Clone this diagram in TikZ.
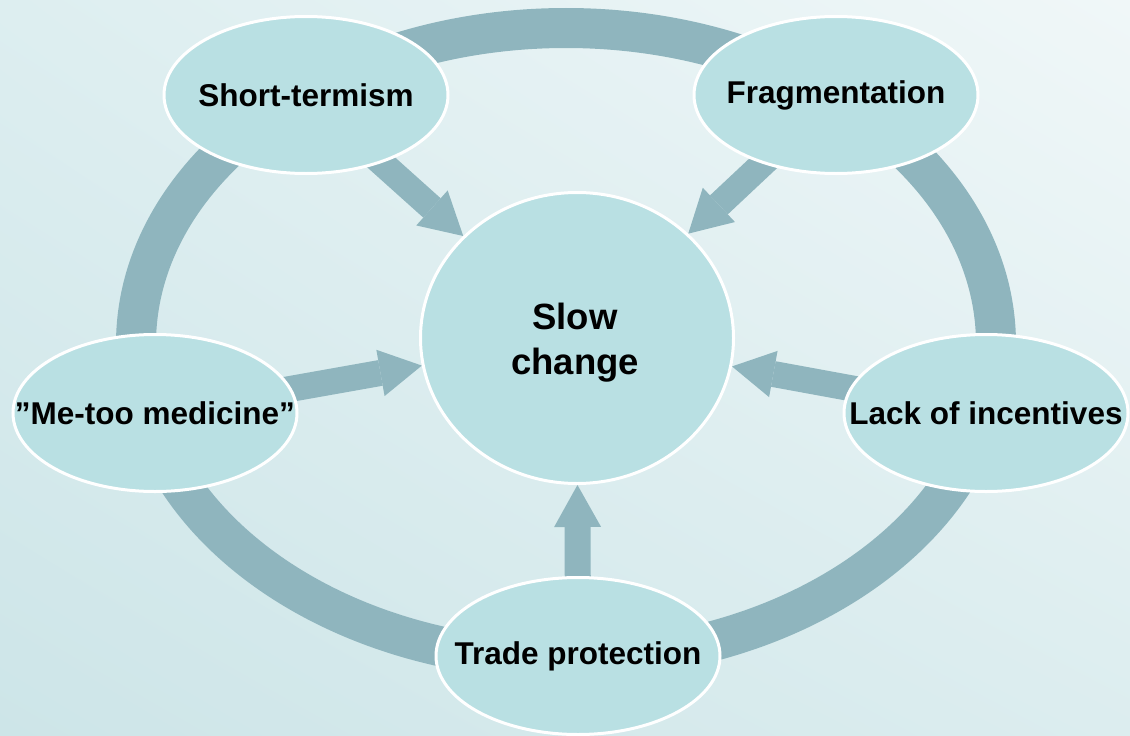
\documentclass[tikz,border=0pt]{standalone}
\usepackage{fontspec}
\setmainfont{Liberation Sans}
\usetikzlibrary{shapes.geometric,arrows.meta,shadings}

\definecolor{ringblue}{HTML}{8FB5BE}
\definecolor{bubblefill}{HTML}{B9E0E3}
\definecolor{bgtl}{HTML}{DDEEF0}
\definecolor{bgtr}{HTML}{F0F7F8}
\definecolor{bgbl}{HTML}{CDE5E8}
\definecolor{bgbr}{HTML}{DCEDEF}

\pgfdeclarelayer{backdrop}
\pgfdeclarelayer{ring}
\pgfsetlayers{backdrop,ring,main}

\begin{document}
\begin{tikzpicture}[x=1pt,y=-1pt]
    \tikzstyle{bubble}=[ellipse,draw=white,line width=3pt,fill=bubblefill,inner sep=0pt,minimum width=284pt,minimum height=157pt,font=\fontsize{31.5}{36}\selectfont\bfseries]
    \tikzstyle{hub}=[bubble,minimum width=313pt,minimum height=291pt]
    \tikzstyle{hubtext}=[align=center,inner sep=0pt,font=\fontsize{36.5}{45}\selectfont\bfseries]
    \tikzstyle{ringband}=[draw=ringblue,line width=40pt]
    \tikzstyle{push}=[ringblue,line width=26pt,shorten <=-14pt,-{Triangle[length=42pt,width=47pt,line width=0pt]}]
    {
        \useasboundingbox (0,0) rectangle (1130,736);

        % centre and the five causes
        \node[hub] (slow) at (577,338) {};
        \node[hubtext] (slowtext) at (575,343) {Slow\\change};
        \node[bubble] (shortterm) at (306,95) {\makebox[0pt]{Short-termism}};
        \node[bubble] (frag) at (836,95) {\makebox[0pt]{Fragmentation}};
        \node[bubble] (metoo) at (155,413) {\makebox[0pt]{”Me-too medicine”}};
        \node[bubble] (lack) at (986,413) {\makebox[0pt]{Lack of incentives}};
        \node[bubble] (trade) at (578,656) {\makebox[0pt]{Trade protection}};

        \begin{pgfonlayer}{backdrop}
            \shade[upper left=bgtl,upper right=bgtr,lower left=bgbl,lower right=bgbr]
                (0,0) rectangle (1130,736);
        \end{pgfonlayer}

        \begin{pgfonlayer}{ring}
            \path[ringband] (566,344) ellipse [x radius=430, y radius=316];
            \path[push]
                (shortterm) edge (slow)
                (frag) edge (slow)
                (metoo) edge (slow)
                (lack) edge (slow)
                (trade) edge (slow);
        \end{pgfonlayer}
    }
\end{tikzpicture}
\end{document}
